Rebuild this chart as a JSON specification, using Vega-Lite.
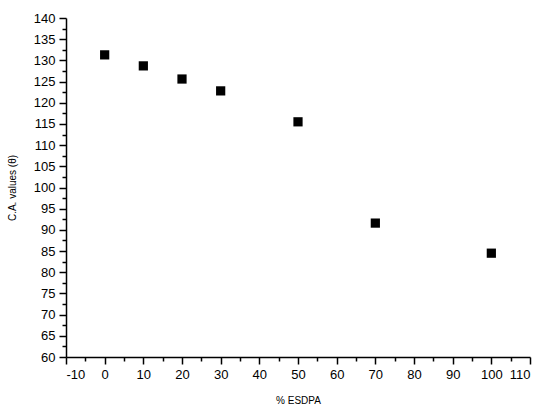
{
  "$schema": "https://vega.github.io/schema/vega-lite/v6.json",
  "width": 464,
  "height": 339,
  "autosize": {"type": "none"},
  "padding": {"left": 66, "top": 18, "right": 20, "bottom": 58},
  "background": "white",
  "config": {
    "view": {"stroke": null},
    "font": "Liberation Sans",
    "axis": {"domainColor": "black", "tickColor": "black", "labelColor": "black", "titleColor": "black", "grid": false, "domainWidth": 1.5, "tickWidth": 1.5}
  },
  "data": {
    "values": [
      {"esdpa": 0, "ca": 131.3},
      {"esdpa": 10, "ca": 128.7},
      {"esdpa": 20, "ca": 125.6},
      {"esdpa": 30, "ca": 122.8},
      {"esdpa": 50, "ca": 115.5},
      {"esdpa": 70, "ca": 91.6},
      {"esdpa": 100, "ca": 84.5}
    ]
  },
  "resolve": {"axis": {"x": "independent", "y": "independent"}},
  "layer": [
    {
      "mark": {"type": "point", "opacity": 0},
      "encoding": {
        "x": {"field": "esdpa", "type": "quantitative", "scale": {"domain": [-10, 110], "nice": false, "zero": false},
          "axis": {"orient": "bottom", "title": null, "labels": false, "domain": false, "values": [-5,5,15,25,35,45,55,65,75,85,95,105], "tickSize": 4}},
        "y": {"field": "ca", "type": "quantitative", "scale": {"domain": [60, 140], "nice": false, "zero": false},
          "axis": {"orient": "left", "title": null, "labels": false, "domain": false, "values": [62.5,67.5,72.5,77.5,82.5,87.5,92.5,97.5,102.5,107.5,112.5,117.5,122.5,127.5,132.5,137.5], "tickSize": 4}}
      }
    },
    {
      "mark": {"type": "point", "shape": "square", "filled": true, "color": "black", "size": 85, "opacity": 1},
      "encoding": {
        "x": {"field": "esdpa", "type": "quantitative",
          "axis": {"orient": "bottom", "title": "% ESDPA", "values": [-10,0,10,20,30,40,50,60,70,80,90,100,110], "labelExpr": "toString(datum.value)", "tickSize": 7, "labelFontSize": 13, "labelPadding": 4, "titleFontSize": 10, "titleFontWeight": "normal", "titlePadding": 14}},
        "y": {"field": "ca", "type": "quantitative",
          "axis": {"orient": "left", "title": "C.A. values (θ)", "values": [60,65,70,75,80,85,90,95,100,105,110,115,120,125,130,135,140], "tickSize": 7, "labelFontSize": 13, "labelPadding": 4, "titleFontSize": 10, "titleFontWeight": "normal", "titlePadding": 16}}
      }
    }
  ]
}
